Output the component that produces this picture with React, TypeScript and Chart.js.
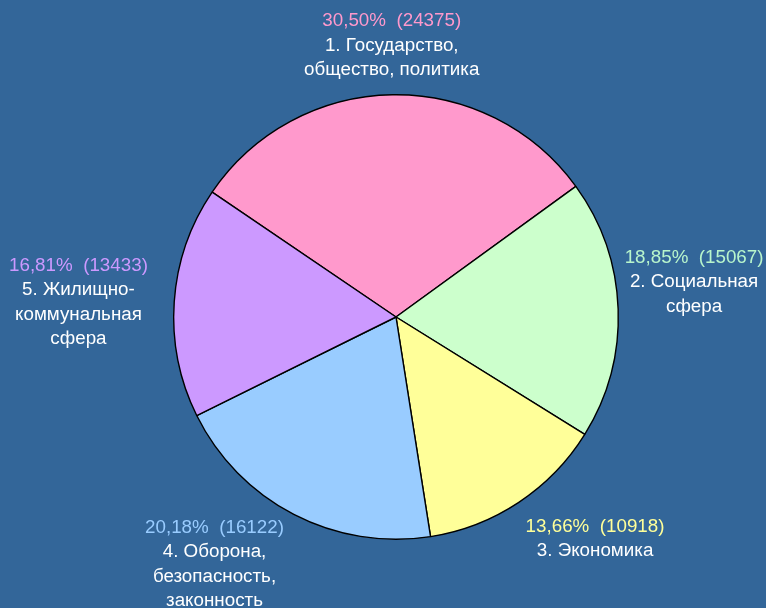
import React, { useEffect, useRef } from "react";
import { Chart, registerables } from "chart.js";

Chart.register(...registerables);

const categories: string[][] = [
  ["1. Государство,", "общество, политика"],
  ["2. Социальная", "сфера"],
  ["3. Экономика"],
  ["4. Оборона,", "безопасность,", "законность"],
  ["5. Жилищно-", "коммунальная", "сфера"],
];
const values: number[] = [24375, 15067, 10918, 16122, 13433];
const percentLabels: string[] = ["30,50%", "18,85%", "13,66%", "20,18%", "16,81%"];
const sliceColors: string[] = ["#FF99CC", "#CCFFCC", "#FFFF99", "#99CCFF", "#CC99FF"];
const labelColors: string[] = ["#FF99CC", "#B8F5CC", "#FFFF99", "#99CCFF", "#CC99FF"];

// label placement relative to each slice's mid-angle (degrees shift, distance as multiple of radius)
const labelAngleShift: number[] = [0, -4.6, -8.4, 8.9, -1.3];
const labelDist: number[] = [1.222, 1.35, 1.34, 1.38, 1.43];

const FONT = "18.8px 'Liberation Sans', Arial, sans-serif";
const LINE_H = 24.5;

const labelPlugin = {
  id: "outsideLabels",
  afterDatasetsDraw(chart: any) {
    const ctx = chart.ctx;
    const meta = chart.getDatasetMeta(0);
    ctx.save();
    ctx.font = FONT;
    ctx.textAlign = "center";
    ctx.textBaseline = "middle";
    meta.data.forEach((arc: any, i: number) => {
      const p = arc.getProps(["x", "y", "startAngle", "endAngle", "outerRadius"], true);
      const mid = (p.startAngle + p.endAngle) / 2 + (labelAngleShift[i] * Math.PI) / 180;
      const d = p.outerRadius * labelDist[i];
      const cx = p.x + Math.cos(mid) * d;
      const cy = p.y + Math.sin(mid) * d;
      const lines = [percentLabels[i] + "  (" + values[i] + ")", ...categories[i]];
      const n = lines.length;
      lines.forEach((t, j) => {
        ctx.fillStyle = j === 0 ? labelColors[i] : "#FFFFFF";
        ctx.fillText(t, cx, cy + (j - (n - 1) / 2) * LINE_H);
      });
    });
    ctx.restore();
  },
};

export default function App() {
  const ref = useRef<HTMLCanvasElement | null>(null);
  useEffect(() => {
    if (!ref.current) return;
    const chart = new Chart(ref.current, {
      type: "pie",
      data: {
        labels: categories.map((c) => c.join(" ")),
        datasets: [
          {
            data: values,
            backgroundColor: sliceColors,
            borderColor: "#000000",
            borderWidth: 1.4,
          },
        ],
      },
      options: {
        responsive: false,
        animation: false,
        rotation: -55.8,
        layout: { padding: { top: 94, bottom: 68, left: 173, right: 147 } },
        plugins: {
          legend: { display: false },
          tooltip: { enabled: false },
        },
      },
      plugins: [labelPlugin],
    });
    return () => chart.destroy();
  }, []);
  return (
    <div
      style={{
        position: "fixed",
        left: 0,
        top: 0,
        width: 766,
        height: 608,
        background: "#336699",
      }}
    >
      <canvas ref={ref} width={766} height={608} />
    </div>
  );
}
